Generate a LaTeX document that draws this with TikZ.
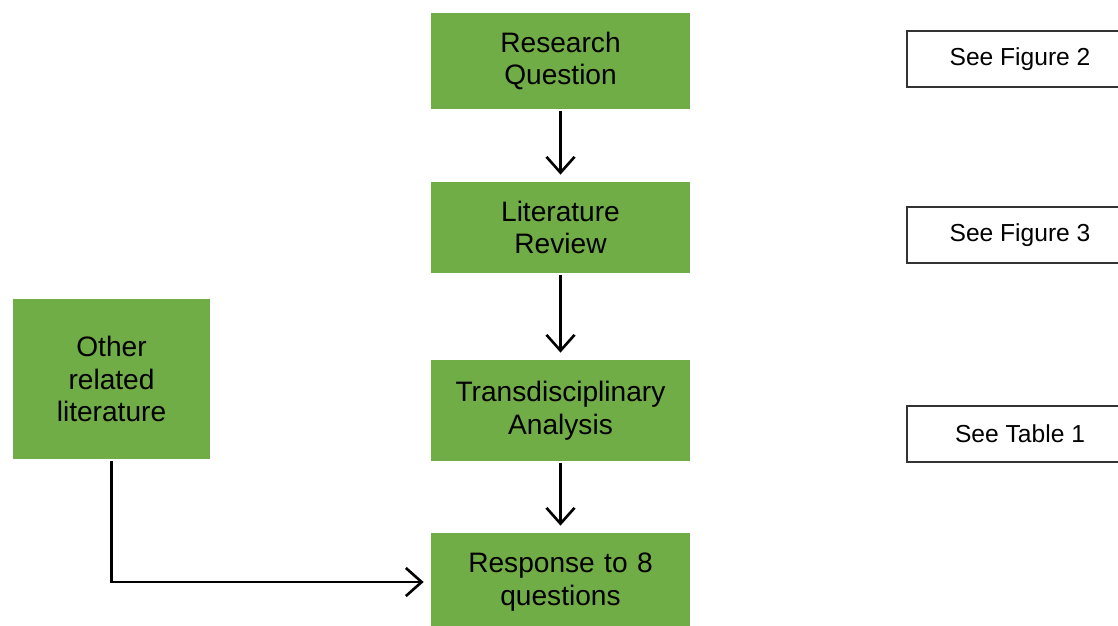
\documentclass[tikz,border=0pt]{standalone}
\usepackage{fontspec}
\setmainfont{Liberation Sans}
\usetikzlibrary{arrows.meta}

\definecolor{boxgreen}{HTML}{70AD47}

\tikzset{
  greenbox/.style={fill=boxgreen, draw=none, align=center, text width=4.9cm,
    font=\fontsize{16}{18.5}\selectfont},
  refbox/.style={draw=black!80, line width=0.8pt, fill=white, align=center,
    minimum width=4.52cm, minimum height=1.12cm,
    font=\fontsize{14}{17}\selectfont},
  flowarrow/.style={-{Straight Barb[length=9pt, width=16pt]}, line width=1.5pt,
    shorten >=4pt, shorten <=1pt}
}

\begin{document}
\begin{tikzpicture}[x=0.02cm, y=-0.02cm]

  \useasboundingbox[fill=white] (0,0) rectangle (1118,625);

  %% Main flow (centre column)
  \node[greenbox, minimum width=5.18cm, minimum height=1.92cm] (rq) at (560.5,61)
    {Research\\Question};
  \node[greenbox, minimum width=5.18cm, minimum height=1.82cm] (lr) at (560.5,227.5)
    {Literature\\Review};
  \node[greenbox, minimum width=5.18cm, minimum height=2.02cm] (ta) at (560.5,410.5)
    {Transdisciplinary\\Analysis};
  \node[greenbox, minimum width=5.18cm, minimum height=1.96cm] (resp) at (560.5,582)
    {Response to 8\\questions};

  % Side input
  \node[greenbox, text width=3.7cm, minimum width=3.94cm, minimum height=3.2cm] (other)
    at (111.5,379) {Other\\related\\literature};

  %% References on the right
  \node[refbox] (fig2) at (1020,59) {See Figure 2};
  \node[refbox] (fig3) at (1020,235) {See Figure 3};
  \node[refbox] (tab1) at (1020,434) {See Table 1};

  % Arrows
  \draw[flowarrow] (rq) -- (lr);
  \draw[flowarrow] (lr) -- (ta);
  \draw[flowarrow] (ta) -- (resp);
  \draw[flowarrow] (other.south) |- (resp.west);
\end{tikzpicture}
\end{document}
